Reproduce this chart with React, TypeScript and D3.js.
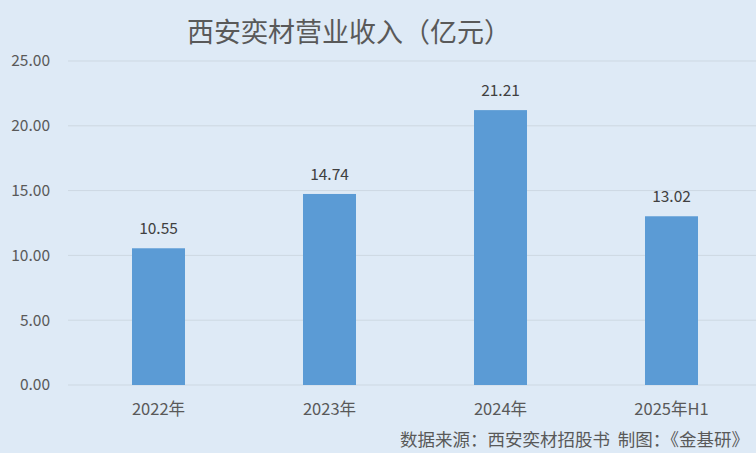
import * as d3 from 'd3';
import React, { useEffect, useRef } from 'react';

const categories: string[] = ['2022年', '2023年', '2024年', '2025年H1'];
const revenue: number[] = [10.55, 14.74, 21.21, 13.02];
const yTicks: number[] = [0, 5, 10, 15, 20, 25];

const width = 756;
const height = 453;
const font = '"Noto Sans CJK SC", "Noto Sans", sans-serif';

const App: React.FC = () => {
  const ref = useRef<SVGSVGElement>(null);

  useEffect(() => {
    if (!ref.current) {
      return;
    }
    const svg = d3.select(ref.current);
    svg.selectAll('*').remove();

    svg.append('rect').attr('width', width).attr('height', height).attr('fill', '#deeaf6');

    const x = d3
      .scaleBand<string>()
      .domain(categories)
      .range([73, 757])
      .paddingInner(0.69)
      .paddingOuter(0.345);
    const y = d3.scaleLinear().domain([0, 25]).range([385, 61]);

    // grid lines
    svg
      .append('g')
      .selectAll('line')
      .data(yTicks)
      .join('line')
      .attr('x1', 68)
      .attr('x2', width)
      .attr('y1', (d) => y(d))
      .attr('y2', (d) => y(d))
      .attr('stroke', '#cdd8e2')
      .attr('stroke-width', 1);

    svg
      .append('g')
      .selectAll('text')
      .data(yTicks)
      .join('text')
      .attr('x', 50)
      .attr('y', (d) => y(d))
      .attr('dy', '0.35em')
      .attr('text-anchor', 'end')
      .attr('font-family', font)
      .attr('font-size', 15.5)
      .attr('fill', '#595959')
      .text((d) => d.toFixed(2));

    const data = categories.map((c, i) => ({ c, v: revenue[i] }));

    svg
      .append('g')
      .selectAll('rect')
      .data(data)
      .join('rect')
      .attr('x', (d) => x(d.c)!)
      .attr('width', x.bandwidth())
      .attr('y', (d) => y(d.v))
      .attr('height', (d) => y(0) - y(d.v))
      .attr('fill', '#5b9bd5');

    svg
      .append('g')
      .selectAll('text')
      .data(data)
      .join('text')
      .attr('x', (d) => x(d.c)! + x.bandwidth() / 2)
      .attr('y', (d) => y(d.v) - 14)
      .attr('text-anchor', 'middle')
      .attr('font-family', font)
      .attr('font-size', 15.5)
      .attr('fill', '#404040')
      .text((d) => d.v.toFixed(2));

    svg
      .append('g')
      .selectAll('text')
      .data(categories)
      .join('text')
      .attr('x', (d) => x(d)! + x.bandwidth() / 2)
      .attr('y', 409)
      .attr('dy', '0.35em')
      .attr('text-anchor', 'middle')
      .attr('font-family', font)
      .attr('font-size', 16.5)
      .attr('fill', '#595959')
      .text((d) => d);

    svg
      .append('text')
      .attr('x', 349)
      .attr('y', 33)
      .attr('dy', '0.35em')
      .attr('text-anchor', 'middle')
      .attr('font-family', font)
      .attr('font-size', 27)
      .attr('fill', '#595959')
      .text('西安奕材营业收入（亿元）');

    svg
      .append('text')
      .attr('x', 749)
      .attr('y', 440)
      .attr('dy', '0.35em')
      .attr('text-anchor', 'end')
      .attr('font-family', font)
      .attr('font-size', 17.5)
      .attr('fill', '#595959')
      .text('数据来源：西安奕材招股书\u00a0\u00a0制图：《金基研》');
  }, []);

  return (
    <svg
      ref={ref}
      width={width}
      height={height}
      viewBox={`0 0 ${width} ${height}`}
      style={{ position: 'absolute', left: 0, top: 0 }}
    ></svg>
  );
};

export default App;
